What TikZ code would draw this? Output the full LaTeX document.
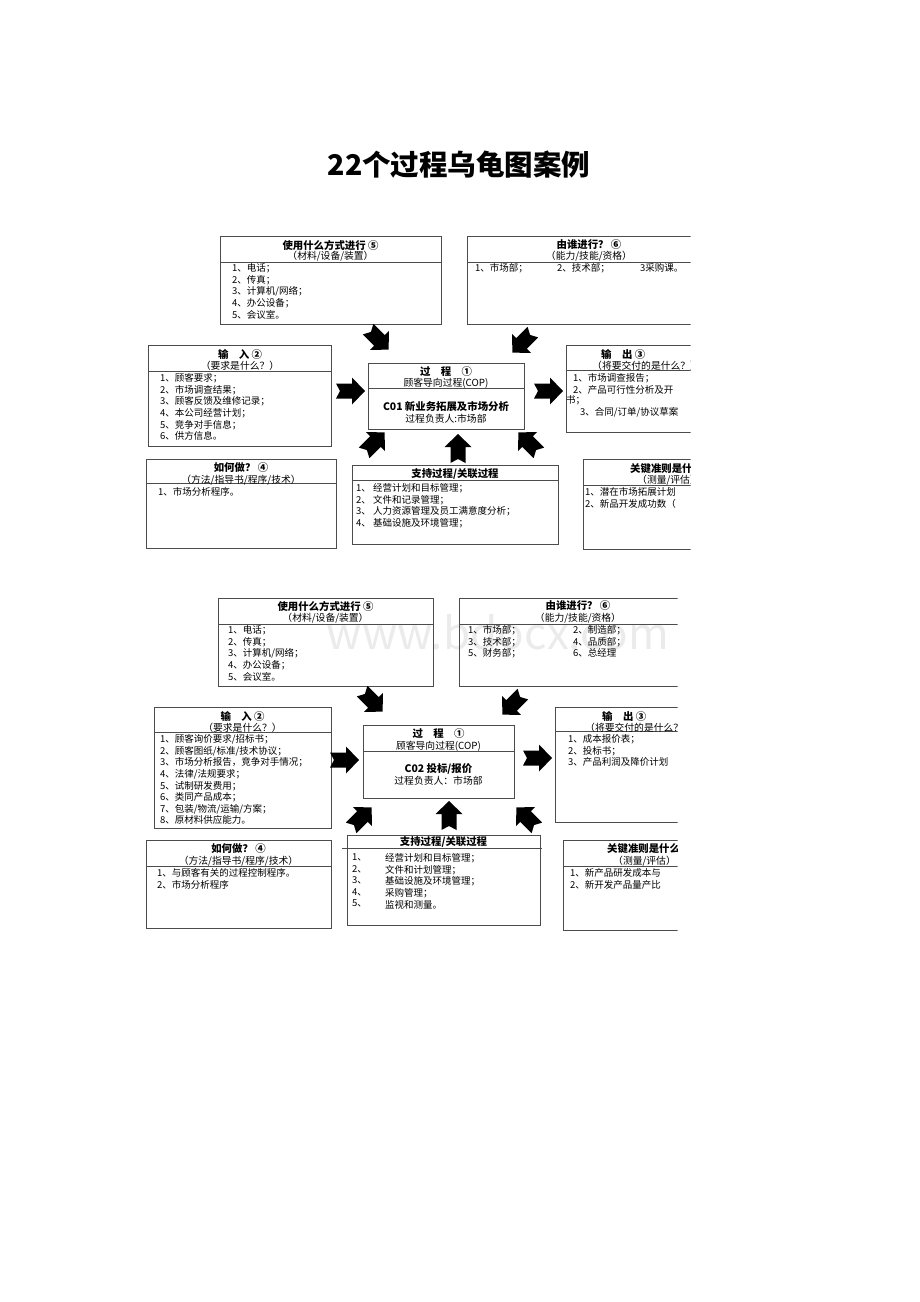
\documentclass[tikz,border=0pt]{standalone}
\usepackage{fontspec}
\setmainfont{Noto Sans CJK SC}
\usetikzlibrary{calc}
\tikzset{
  box/.style={draw=black!70, line width=0.7pt},
  head/.style={font=\fontsize{10.4}{11}\selectfont\bfseries, inner sep=0pt},
  sub/.style={font=\fontsize{9.8}{11}\selectfont, inner sep=0pt},
  list/.style={font=\fontsize{9.5}{11.6}\selectfont, align=left, anchor=north west, inner sep=0pt},
  item/.style={font=\fontsize{9.5}{11.6}\selectfont, anchor=west, inner sep=0pt},
}
\newcommand{\fatarrow}[3]{\fill[black, shift={(#1,#2)}, rotate=#3] (-14,-7.5) -- (2,-7.5) -- (2,-13.5) -- (15,0) -- (2,13.5) -- (2,7.5) -- (-14,7.5) -- (-10,0) -- cycle;}

\begin{document}
\begin{tikzpicture}[x=1pt, y=-1pt]
			\useasboundingbox (0,0) rectangle (920,1302);
			%%%%% TITLE %%%%%
			\node[font=\fontsize{28.5}{32}\selectfont\bfseries] (title) at (459,165) {22个过程乌龟图案例};
			
			%%%%% C01 %%%%%
			\begin{scope}
			\clip (0,200) rectangle (690.5,560);
			% materials
			\draw[box] (220,236) rectangle (441,324);
			\draw[box] (220,262) -- (441,262);
			\node[head] (matA) at (330.5,245) {使用什么方式进行 ⑤};
			\node[sub] (matAs) at (330.5,256) {（材料/设备/装置）};
			\node[list] (matAl) at (232,263.5) {1、电话；\\2、传真；\\3、计算机/网络；\\4、办公设备；\\5、会议室。};
			% who
			\draw[box] (467,236) rectangle (712,324);
			\draw[box] (467,262) -- (712,262);
			\node[head] (whoA) at (589,245) {由谁进行？ ⑥};
			\node[sub] (whoAs) at (589,256) {（能力/技能/资格）};
			\node[item] (whoA1) at (475,268) {1、市场部；};
			\node[item] (whoA2) at (557,268) {2、技术部；};
			\node[item] (whoA3) at (640,268) {3采购课。};
			% input
			\draw[box] (148,345) rectangle (331,446);
			\draw[box] (148,371) -- (331,371);
			\node[head] (inA) at (240,354) {输　入 ②};
			\node[sub] (inAs) at (240,366) {（要求是什么？）};
			\node[list] (inAl) at (160,373.5) {1、顾客要求；\\2、市场调查结果；\\3、顾客反馈及维修记录；\\4、本公司经营计划；\\5、竞争对手信息；\\6、供方信息。};
			% process
			\draw[box] (368,363) rectangle (524,429);
			\draw[box] (368,388) -- (524,388);
			\node[head] (procA) at (446,372) {过　程　①};
			\node[sub] (procAs) at (446,383) {顾客导向过程(COP)};
			\node[head] (procAn) at (446,407) {C01 新业务拓展及市场分析};
			\node[sub] (procAo) at (446,419) {过程负责人:市场部};
			% output
			\draw[box] (566,345) rectangle (720,432);
			\draw[box] (566,370) -- (720,370);
			\node[head, anchor=west] (outA) at (601,354) {输　出 ③};
			\node[sub, anchor=west] (outAs) at (592,366) {（将要交付的是什么？）};
			\node[list] (outAl) at (573,373.5) {1、市场调查报告；\\2、产品可行性分析及开};
			\node[item] (outA2) at (566,400) {书；};
			\node[item] (outA3) at (580,412) {3、合同/订单/协议草案};
			% how
			\draw[box] (146,459) rectangle (336,548);
			\draw[box] (146,483) -- (336,483);
			\node[head] (howA) at (241,468) {如何做？ ④};
			\node[sub] (howAs) at (241,480) {（方法/指导书/程序/技术）};
			\node[list] (howAl) at (158,487.5) {1、市场分析程序。};
			% support
			\draw[box] (352,465) rectangle (558,544);
			\draw[box] (352,480) -- (558,480);
			\node[head] (supA) at (455,474) {支持过程/关联过程};
			\node[list] (supAl) at (356,483.5) {1、 经营计划和目标管理；\\2、 文件和记录管理；\\3、 人力资源管理及员工满意度分析；\\4、 基础设施及环境管理；};
			% key criteria
			\draw[box] (583,459) rectangle (780,549);
			\draw[box] (583,485) -- (780,485);
			\node[head, anchor=west] (keyA) at (630,469) {关键准则是什么？};
			\node[sub, anchor=west] (keyAs) at (637,480) {（测量/评估）};
			\node[list] (keyAl) at (585,487.5) {1、潜在市场拓展计划\\2、新品开发成功数（};
			\end{scope}
			% arrows
			\fatarrow{378}{339}{-45}
			\fatarrow{523}{342}{-135}
			\fatarrow{350}{391}{0}
			\fatarrow{548}{391}{0}
			\fatarrow{374}{443}{45}
			\fatarrow{458}{449}{90}
			\fatarrow{529}{443}{135}
			
			%%%%% C02 %%%%%
			\node[font=\fontsize{44}{46}\selectfont, text=black!8] (mark) at (498,632) {www.bdocx.com};
			\begin{scope}
			\clip (0,580) rectangle (677.5,940);
			% materials
			\draw[box] (218,598) rectangle (433,686);
			\draw[box] (218,624) -- (433,624);
			\node[head] (matB) at (325.5,606) {使用什么方式进行 ⑤};
			\node[sub] (matBs) at (325.5,618) {（材料/设备/装置）};
			\node[list] (matBl) at (228,625.5) {1、电话；\\2、传真；\\3、计算机/网络；\\4、办公设备；\\5、会议室。};
			% who
			\draw[box] (459,598) rectangle (698,686);
			\draw[box] (459,624) -- (698,624);
			\node[head] (whoB) at (578,606) {由谁进行？ ⑥};
			\node[sub] (whoBs) at (578,618) {（能力/技能/资格）};
			\node[list] (whoBl) at (468,625.5) {1、市场部；\\3、技术部；\\5、财务部；};
			\node[list] (whoBr) at (573,625.5) {2、制造部；\\4、品质部；\\6、总经理};
			% input
			\draw[box] (154,707) rectangle (331,828);
			\draw[box] (154,732) -- (331,732);
			\node[head] (inB) at (242.5,716) {输　入 ②};
			\node[sub] (inBs) at (242.5,728) {（要求是什么？）};
			\node[list] (inBl) at (160,734.5) {1、顾客询价要求/招标书；\\2、顾客图纸/标准/技术协议；\\3、市场分析报告，竞争对手情况；\\4、法律/法规要求；\\5、试制研发费用；\\6、类同产品成本；\\7、包装/物流/运输/方案；\\8、原材料供应能力。};
			% process
			\draw[box] (363,725) rectangle (514,798);
			\draw[box] (363,751) -- (514,751);
			\node[head] (procB) at (438.5,734) {过　程　①};
			\node[sub] (procBs) at (438.5,746) {顾客导向过程(COP)};
			\node[head] (procBn) at (438.5,769) {C02 投标/报价};
			\node[sub] (procBo) at (438.5,781) {过程负责人：市场部};
			% output
			\draw[box] (555,707) rectangle (720,822);
			\draw[box] (555,731) -- (720,731);
			\node[head, anchor=west] (outB) at (602,716) {输　出 ③};
			\node[sub, anchor=west] (outBs) at (585,728) {（将要交付的是什么？）};
			\node[list] (outBl) at (568,734.5) {1、成本报价表；\\2、投标书；\\3、产品利润及降价计划};
			% how
			\draw[box] (146,840) rectangle (331,928);
			\draw[box] (146,866) -- (331,866);
			\node[head] (howB) at (238.5,849) {如何做？ ④};
			\node[sub] (howBs) at (238.5,861) {（方法/指导书/程序/技术）};
			\node[list] (howBl) at (157,868.5) {1、与顾客有关的过程控制程序。\\2、市场分析程序};
			% support
			\draw[box] (347,835) rectangle (540,925);
			\draw[box] (342,848) -- (542,848);
			\node[head] (supB) at (443.5,842) {支持过程/关联过程};
			\node[list] (supBn) at (352,853.5) {1、\\2、\\3、\\4、\\5、};
			\node[list] (supBl) at (385,853.5) {经营计划和目标管理；\\文件和计划管理；\\基础设施及环境管理；\\采购管理；\\监视和测量。};
			% key criteria
			\draw[box] (563,840) rectangle (760,930);
			\draw[box] (563,866) -- (760,866);
			\node[head, anchor=west] (keyB) at (607,849) {关键准则是什么？};
			\node[sub, anchor=west] (keyBs) at (613,861) {（测量/评估）};
			\node[list] (keyBl) at (570,868.5) {1、新产品研发成本与\\2、新开发产品量产比};
			\end{scope}
			% arrows
			\fatarrow{372}{701}{-45}
			\fatarrow{513}{704}{-135}
			\fatarrow{344}{760}{0}
			\fatarrow{537}{758}{0}
			\fatarrow{361}{818}{45}
			\fatarrow{449}{816}{90}
			\fatarrow{527}{818}{135}
		\end{tikzpicture}
\end{document}
